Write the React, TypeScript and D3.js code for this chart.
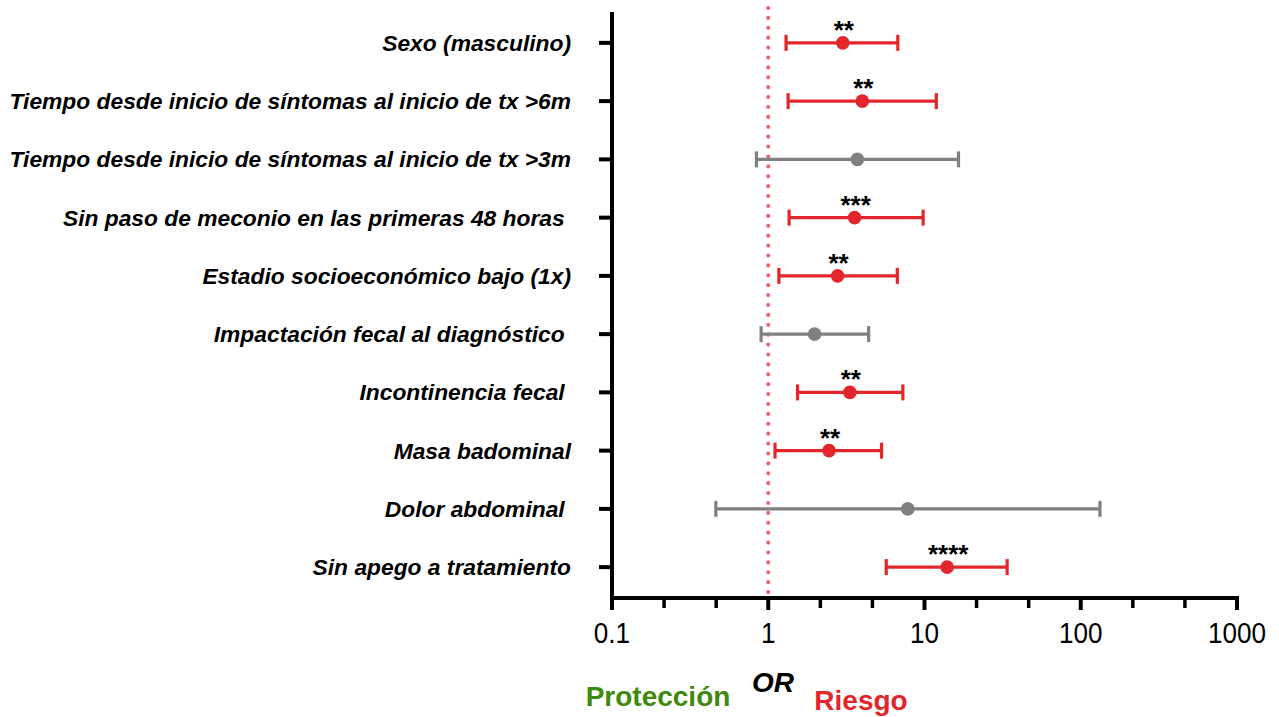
import React from "react";
import * as d3 from "d3";

const categories = [
  "Sexo (masculino)",
  "Tiempo desde inicio de síntomas al inicio de tx >6m",
  "Tiempo desde inicio de síntomas al inicio de tx >3m",
  "Sin paso de meconio en las primeras 48 horas ",
  "Estadio socioeconómico bajo (1x)",
  "Impactación fecal al diagnóstico ",
  "Incontinencia fecal ",
  "Masa badominal",
  "Dolor abdominal ",
  "Sin apego a tratamiento",
];
const orValues = [3.0, 4.0, 3.72, 3.57, 2.78, 1.98, 3.33, 2.45, 7.82, 13.96];
const lowValues = [1.3, 1.34, 0.84, 1.36, 1.17, 0.9, 1.54, 1.105, 0.462, 5.69];
const highValues = [6.75, 11.9, 16.5, 9.8, 6.7, 4.39, 7.27, 5.31, 132.7, 33.8];
const significance = ["**", "**", "", "***", "**", "", "**", "**", "", "****"];
const xTickValues = [0.1, 1, 10, 100, 1000];
const xTickLabels = ["0.1", "1", "10", "100", "1000"];

const RED = "#e2262b";
const GRAY = "#808080";
const GREEN = "#3e8a0c";
const DOT = "#e96a6e";

export default function App() {
  const width = 1279;
  const height = 717;
  const x = d3.scaleLog().domain([0.1, 1000]).range([612, 1237]);
  const y = d3.scalePoint<string>().domain(categories).range([12, 598]).padding(0.53);
  const axisBottom = 598;
  const axisLeft = 612;

  const minorTicks: number[] = [];
  for (let e = -1; e < 3; e++) {
    minorTicks.push(Math.pow(10, e + 1 / 3), Math.pow(10, e + 2 / 3));
  }

  const rows = categories.map((c, i) => ({
    c,
    or: orValues[i],
    lo: lowValues[i],
    hi: highValues[i],
    sig: significance[i],
    color: significance[i] ? RED : GRAY,
  }));

  const font = "'Liberation Sans', Arial, Helvetica, sans-serif";

  return (
    <svg width={width} height={height} style={{ position: "absolute", left: 0, top: 0 }}>
      <rect x={0} y={0} width={width} height={height} fill="#fff" />
      {/* reference line at OR = 1 */}
      <line
        x1={x(1)}
        x2={x(1)}
        y1={8}
        y2={axisBottom - 4}
        stroke={DOT}
        strokeWidth={4.2}
        strokeLinecap="round"
        strokeDasharray="0 9.9"
      />
      {/* axes */}
      <line x1={axisLeft} x2={axisLeft} y1={12} y2={axisBottom + 2} stroke="#000" strokeWidth={4} />
      <line x1={axisLeft - 2} x2={1239} y1={axisBottom} y2={axisBottom} stroke="#000" strokeWidth={4} />
      {categories.map((c) => (
        <line key={"yt" + c} x1={599} x2={axisLeft} y1={y(c)!} y2={y(c)!} stroke="#000" strokeWidth={4} />
      ))}
      {xTickValues.map((v) => (
        <line key={"xt" + v} x1={x(v)} x2={x(v)} y1={axisBottom} y2={axisBottom + 12} stroke="#000" strokeWidth={4} />
      ))}
      {minorTicks.map((v) => (
        <line key={"mt" + v} x1={x(v)} x2={x(v)} y1={axisBottom} y2={axisBottom + 10} stroke="#000" strokeWidth={3.5} />
      ))}
      {xTickValues.map((v, i) => (
        <text
          key={"xl" + v}
          x={x(v)}
          y={643}
          textAnchor="middle"
          fontFamily={font}
          fontSize={29}
          fill="#000"
          transform={`translate(${x(v)},0) scale(0.9,1) translate(${-x(v)},0)`}
        >
          {xTickLabels[i]}
        </text>
      ))}
      {/* category labels */}
      {categories.map((c) => (
        <text
          key={"cl" + c}
          x={571}
          y={y(c)! + 8}
          textAnchor="end"
          fontFamily={font}
          fontSize={22.8}
          fontWeight="bold"
          fontStyle="italic"
          fill="#000"
          style={{ whiteSpace: "pre" }}
        >
          {c}
        </text>
      ))}
      {/* error bars */}
      {rows.map((r) => {
        const cy = y(r.c)!;
        return (
          <g key={"eb" + r.c}>
            <line x1={x(r.lo)} x2={x(r.hi)} y1={cy} y2={cy} stroke={r.color} strokeWidth={3.2} />
            <line x1={x(r.lo)} x2={x(r.lo)} y1={cy - 8} y2={cy + 8} stroke={r.color} strokeWidth={3.2} />
            <line x1={x(r.hi)} x2={x(r.hi)} y1={cy - 8} y2={cy + 8} stroke={r.color} strokeWidth={3.2} />
            <circle cx={x(r.or)} cy={cy} r={6.8} fill={r.color} />
            {r.sig && (
              <text
                x={x(r.or) + 1}
                y={cy - 4}
                textAnchor="middle"
                fontFamily={font}
                fontSize={26}
                fontWeight="bold"
                fill="#000"
              >
                {r.sig}
              </text>
            )}
          </g>
        );
      })}
      {/* bottom labels */}
      <text x={658} y={706} textAnchor="middle" fontFamily={font} fontSize={28} fontWeight="bold" fill={GREEN}>
        Protección
      </text>
      <text x={773} y={692} textAnchor="middle" fontFamily={font} fontSize={28} fontWeight="bold" fontStyle="italic" fill="#000">
        OR
      </text>
      <text x={861} y={710} textAnchor="middle" fontFamily={font} fontSize={28} fontWeight="bold" fill={RED}>
        Riesgo
      </text>
    </svg>
  );
}
